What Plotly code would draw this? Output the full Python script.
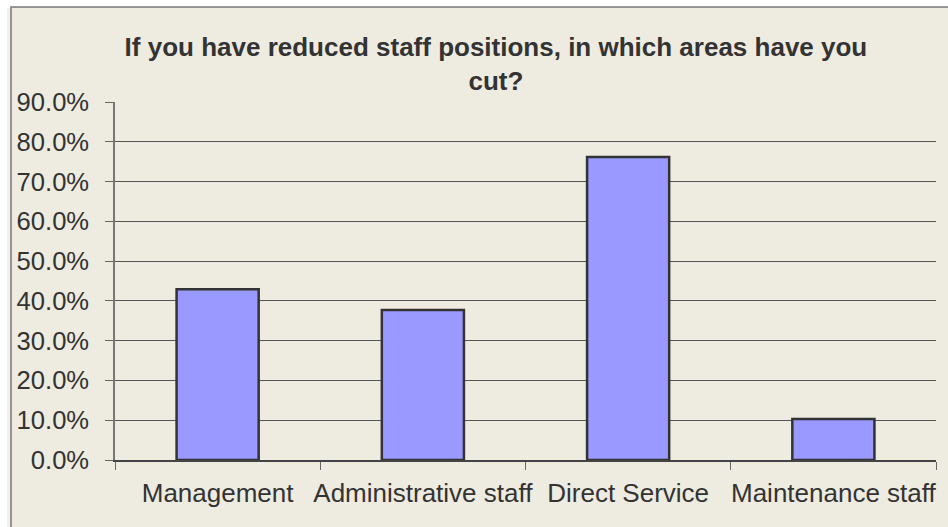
import plotly.graph_objects as go

# Survey results: share of respondents who cut staff in each area
categories = ["Management", "Administrative staff", "Direct Service", "Maintenance staff"]
shares = [0.429, 0.377, 0.762, 0.103]
y_ticks = [0.0, 0.1, 0.2, 0.3, 0.4, 0.5, 0.6, 0.7, 0.8, 0.9]

title_text = "If you have reduced staff positions, in which areas have you<br>cut?"

FONT = "Liberation Sans, Arial, sans-serif"
TEXT = "#333333"

fig = go.Figure(
    go.Bar(
        x=categories,
        y=shares,
        marker=dict(color="#9999FF", line=dict(color="#333333", width=2.5)),
        width=0.4,
        hoverinfo="x+y",
    )
)

fig.update_layout(
    width=948,
    height=527,
    margin=dict(l=115, r=12, t=102, b=67, autoexpand=False),
    paper_bgcolor="white",
    plot_bgcolor="#EEEEEE",
    showlegend=False,
    font=dict(family=FONT, size=26, color=TEXT),
    title=dict(
        text=title_text,
        font=dict(family=FONT, size=26, color=TEXT, weight="bold"),
        x=0.464,
        xref="paper",
        xanchor="center",
        y=1 - 56 / 527,
        yref="container",
        yanchor="top",
        automargin=False,
    ),
    xaxis=dict(
        type="category",
        tickson="boundaries",
        ticks="outside",
        ticklen=8,
        tickcolor="#666666",
        tickangle=0,
        ticklabelstandoff=9,
        automargin=False,
        showgrid=False,
        showline=True,
        linecolor="#444444",
        linewidth=1.5,
        tickfont=dict(size=26, color=TEXT),
    ),
    yaxis=dict(
        range=[0, 0.9],
        tickvals=y_ticks,
        tickformat=".1%",
        ticks="outside",
        ticklen=8,
        tickcolor="#666666",
        ticklabelstandoff=11,
        automargin=False,
        showgrid=True,
        gridcolor="#555555",
        gridwidth=1,
        showline=True,
        linecolor="#777777",
        linewidth=1.5,
        zeroline=False,
        tickfont=dict(size=25.6, color=TEXT),
    ),
    shapes=[
        # soft shadow to the left of the chart frame
        dict(type="rect", xref="paper", yref="paper",
             x0=-0.1315, x1=1.2, y0=-0.4, y1=1.262,
             fillcolor="rgba(0,0,0,0.06)", line=dict(width=0), layer="below"),
        # beige chart frame
        dict(type="rect", xref="paper", yref="paper",
             x0=-0.1267, x1=1.2, y0=-0.4, y1=1.2654,
             fillcolor="#EEEBE0", line=dict(color="#777777", width=1.5), layer="below"),
    ],
)

fig.write_html("out.html")
